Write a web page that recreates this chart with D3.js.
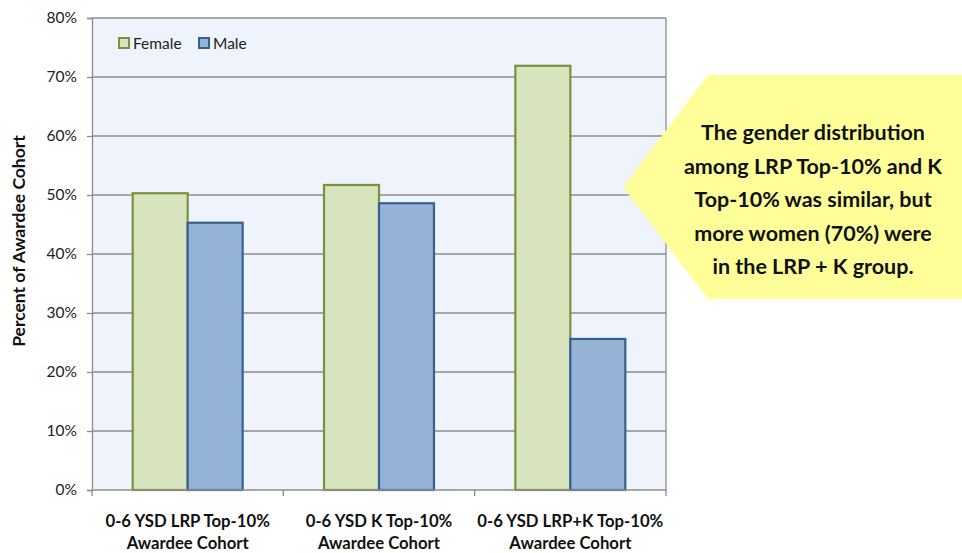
<!DOCTYPE html>
<html><head><meta charset="utf-8">
<script src="https://cdn.jsdelivr.net/npm/d3@7"></script>
<style>body{margin:0;background:#fff}svg{display:block;font-family:Lato,"Open Sans",sans-serif}</style>
</head><body><svg id="c" width="962" height="553"></svg>
<script>
const categories = [["0-6 YSD LRP Top-10%","Awardee Cohort"],["0-6 YSD K Top-10%","Awardee Cohort"],["0-6 YSD LRP+K Top-10%","Awardee Cohort"]];
const seriesNames = ["Female","Male"];
const female = [50.3, 51.7, 71.9];
const male = [45.3, 48.6, 25.6];
const yTicks = [0,10,20,30,40,50,60,70,80];
const calloutLines = ["The gender distribution","among LRP Top-10% and K","Top-10% was similar, but","more women (70%) were","in the LRP + K group."];

const fills = ["#D7E4BD","#95B3D7"], strokes = ["#77933C","#376092"];
const svg = d3.select("#c");
const L=92,R=666,T=18,B=490;
const x = d3.scaleBand().domain(d3.range(categories.length)).range([L,R]).paddingInner(0).paddingOuter(0);
const x1 = d3.scaleBand().domain([0,1]).range([0,x.bandwidth()]).paddingOuter(0.74).paddingInner(0);
const y = d3.scaleLinear().domain([0,80]).range([B,T]);

svg.append("rect").attr("x",L).attr("y",T).attr("width",R-L).attr("height",B-T).attr("fill","#EEF3FC");
svg.append("g").selectAll("line").data(yTicks.filter(d=>d>0)).join("line")
  .attr("x1",L).attr("x2",R).attr("y1",d=>y(d)).attr("y2",d=>y(d)).attr("stroke","#8C8C8C").attr("stroke-width",1.3);
svg.append("line").attr("x1",R).attr("x2",R).attr("y1",T).attr("y2",B).attr("stroke","#8C8C8C").attr("stroke-width",1.3);

const data = [female, male];
data.forEach((vals,s)=>{
  svg.append("g").selectAll("rect").data(vals).join("rect")
    .attr("x",(d,i)=>x(i)+x1(s)).attr("width",x1.bandwidth())
    .attr("y",d=>y(d)).attr("height",d=>B-y(d))
    .attr("fill",fills[s]).attr("stroke",strokes[s]).attr("stroke-width",2.2);
});

const ya = svg.append("g").attr("transform",`translate(${L},0)`)
  .call(d3.axisLeft(y).tickValues(yTicks).tickFormat(d=>d+"%").tickSize(5).tickPadding(10));
ya.select(".domain").attr("stroke","#8C8C8C").attr("stroke-width",1.3);
ya.selectAll(".tick line").attr("stroke","#8C8C8C").attr("stroke-width",1.3);
ya.selectAll("text").attr("font-size",15.5).attr("fill","#222").attr("font-family","Lato,sans-serif");

const xa = svg.append("g").attr("transform",`translate(0,${B})`);
xa.append("line").attr("x1",L).attr("x2",R).attr("stroke","#8C8C8C").attr("stroke-width",1.3);
xa.selectAll("line.t").data(d3.range(categories.length+1)).join("line").attr("class","t")
  .attr("x1",i=>L+i*x.bandwidth()).attr("x2",i=>L+i*x.bandwidth()).attr("y1",0).attr("y2",6)
  .attr("stroke","#8C8C8C").attr("stroke-width",1.3);
categories.forEach((c,i)=>{
  const t = xa.append("text").attr("x",x(i)+x.bandwidth()/2).attr("text-anchor","middle")
    .attr("font-size",16.7).attr("font-weight","bold").attr("fill","#111");
  c.forEach((ln,k)=>t.append("tspan").attr("x",x(i)+x.bandwidth()/2).attr("y",37+k*21.5).text(ln));
});

svg.append("text").attr("transform",`translate(25,241) rotate(-90)`).attr("text-anchor","middle")
  .attr("font-size",17.5).attr("font-weight","bold").attr("fill","#111").text("Percent of Awardee Cohort");

const lg = svg.append("g");
const lx=[119,199];
seriesNames.forEach((n,s)=>{
  lg.append("rect").attr("x",lx[s]).attr("y",38).attr("width",10).attr("height",10)
    .attr("fill",fills[s]).attr("stroke",strokes[s]).attr("stroke-width",2);
  lg.append("text").attr("x",lx[s]+14).attr("y",49).attr("font-size",15.5).attr("fill","#222").text(n);
});

svg.append("polygon").attr("points","623,187 708,75 962,75 962,299 708,299").attr("fill","#FFFF99");
const ct = svg.append("text").attr("text-anchor","middle").attr("font-size",21.5).attr("font-weight","bold").attr("fill","#111");
calloutLines.forEach((ln,k)=>ct.append("tspan").attr("x",813).attr("y",140+k*33.5).text(ln));
</script></body></html>
